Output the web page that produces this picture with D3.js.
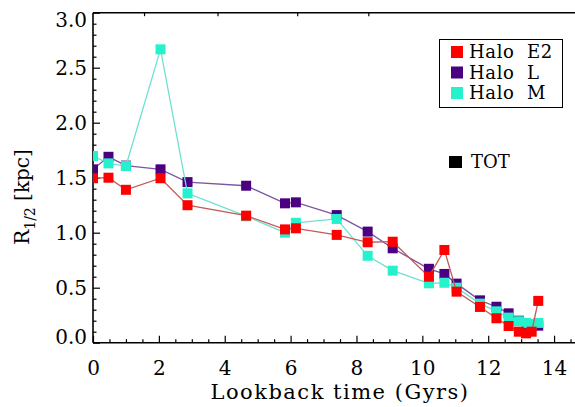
<!DOCTYPE html>
<html>
<head>
<meta charset="utf-8">
<script src="https://cdn.jsdelivr.net/npm/d3@7"></script>
<style>
  body { margin: 0; background: #fff; }
  svg { display: block; font-family: "DejaVu Serif", serif; }
</style>
</head>
<body>
<script>
// lookback time (Gyr) of each snapshot
const times = [0, 0.47, 1.0, 2.05, 2.87, 4.65, 5.83, 6.16, 7.4, 8.34, 9.1,
    10.2, 10.67, 11.04, 11.75, 12.25, 12.62, 12.93, 13.15, 13.32, 13.52];

// half-mass radius R_1/2 (kpc)
const haloE2 = [1.495, 1.50, 1.39, 1.495, 1.25, 1.155, 1.03, 1.04, 0.98, 0.913, 0.918,
    0.60, 0.843, 0.464, 0.325, 0.222, 0.152, 0.10, 0.085, 0.10, 0.38];
const haloL = [1.576, 1.69, 1.61, 1.576, 1.46, 1.427, 1.267, 1.276, 1.16, 1.01, 0.858,
    0.672, 0.625, 0.537, 0.385, 0.327, 0.267, 0.20, 0.17, 0.16, 0.155];
const haloM = [1.697, 1.63, 1.606, 2.667, 1.358, 1.15, 1.0, 1.09, 1.125, 0.79, 0.655,
    0.54, 0.545, 0.50, 0.355, 0.285, 0.228, 0.195, 0.18, 0.17, 0.18];

const xTicks = [0, 2, 4, 6, 8, 10, 12, 14];
const yTicks = [0, 0.5, 1.0, 1.5, 2.0, 2.5, 3.0];
const topTicks = [1.55, 3.78, 6.2, 8.36];

const series = [
    { name: 'Halo L', values: haloL, fill: '#4b0082', line: '#7d55a0' },
    { name: 'Halo M', values: haloM, fill: '#25f2cc', line: '#6ee0d2' },
    { name: 'Halo E2', values: haloE2, fill: '#ff0000', line: '#c45a55' }
];
const legendOrder = ['Halo E2', 'Halo L', 'Halo M'];

const width = 575, height = 407;
const svg = d3.select('body').append('svg')
    .attr('width', width)
    .attr('height', height)

const x = d3.scaleLinear().domain([0, 15]).range([93, 587]);
const y = d3.scaleLinear().domain([0, 3]).range([342.7, 12.7]);

svg.append('clipPath').attr('id', 'plot')
    .append('rect')
    .attr('x', x(0)).attr('y', y(3))
    .attr('width', x(15) - x(0)).attr('height', y(0) - y(3));

// axes
svg.append('g')
    .attr('transform', `translate(0,${y(0)})`)
    .call(d3.axisBottom(x).tickValues(xTicks).tickSize(-7).tickSizeOuter(0).tickPadding(18));
svg.append('g')
    .attr('transform', `translate(0,${y(0)})`)
    .call(d3.axisBottom(x).tickValues(d3.range(0.5, 15, 0.5).filter(d => d % 2 !== 0))
        .tickSize(-3.5).tickSizeOuter(0).tickFormat(''));

const yAxis = svg.append('g')
    .attr('transform', `translate(${x(0)},0)`)
    .call(d3.axisLeft(y).tickValues(yTicks).tickSize(-7).tickSizeOuter(0).tickPadding(6)
        .tickFormat(d3.format('.1f')));
svg.append('g')
    .attr('transform', `translate(${x(0)},0)`)
    .call(d3.axisLeft(y).tickValues(d3.range(1, 30).filter(d => d % 5 !== 0).map(d => d / 10))
        .tickSize(-3.5).tickSizeOuter(0).tickFormat(''));

svg.append('g')
    .attr('transform', `translate(0,${y(3)})`)
    .call(d3.axisTop(x).tickValues(topTicks).tickSize(-3.5).tickSizeOuter(0).tickFormat(''));

svg.selectAll('.domain').remove();
svg.selectAll('.tick line').attr('stroke', '#000').attr('stroke-width', 1.2);
svg.selectAll('.tick text')
    .attr('fill', '#000')
    .style('font-family', '"DejaVu Serif", serif')
    .style('font-size', '20px');

// nudge the end labels of the y axis inwards
yAxis.selectAll('.tick text')
    .attr('dy', d => d === 0 ? '0.02em' : d === 3 ? '0.67em' : '0.32em');

// frame
const frame = svg.append('g').attr('stroke', '#000').attr('stroke-width', 1.6);
frame.append('line').attr('x1', x(0)).attr('x2', x(15)).attr('y1', y(0)).attr('y2', y(0));
frame.append('line').attr('x1', x(0)).attr('x2', x(15)).attr('y1', y(3)).attr('y2', y(3));
frame.append('line').attr('x1', x(0)).attr('x2', x(0)).attr('y1', y(0)).attr('y2', y(3));

// data
const plot = svg.append('g').attr('clip-path', 'url(#plot)');
const line = d3.line().x((d, i) => x(times[i])).y(d => y(d));
const sq = 10;

series.forEach(s => {
    plot.append('path')
        .attr('d', line(s.values))
        .attr('fill', 'none')
        .attr('stroke', s.line)
        .attr('stroke-width', 1.3);
    plot.selectAll(null)
        .data(s.values)
        .enter()
        .append('rect')
        .attr('x', (d, i) => x(times[i]) - sq / 2)
        .attr('y', d => y(d) - sq / 2)
        .attr('width', sq)
        .attr('height', sq)
        .attr('fill', s.fill);
});

// legend
const legend = svg.append('g');
legend.append('rect')
    .attr('x', 439.5).attr('y', 39.5).attr('width', 123).attr('height', 68)
    .attr('fill', '#fff').attr('stroke', '#000').attr('stroke-width', 1);
legendOrder.forEach((name, i) => {
    const s = series.find(d => d.name === name);
    const cy = 52 + i * 20.5;
    legend.append('rect')
        .attr('x', 451).attr('y', cy - 6).attr('width', 12).attr('height', 12)
        .attr('fill', s.fill);
    legend.append('text')
        .attr('x', 469).attr('y', cy + 6)
        .attr('font-size', 18)
        .attr('letter-spacing', 0.6)
        .attr('xml:space', 'preserve')
        .style('white-space', 'pre')
        .text(name.replace(' ', '  '));
});
legend.append('rect')
    .attr('x', 449).attr('y', 156).attr('width', 13).attr('height', 12)
    .attr('fill', '#000');
legend.append('text')
    .attr('x', 471).attr('y', 168)
    .attr('font-size', 18)
    .text('TOT');

// axis titles
svg.append('text')
    .attr('x', (x(0) + x(15)) / 2)
    .attr('y', 399)
    .attr('text-anchor', 'middle')
    .attr('font-size', 21)
    .attr('letter-spacing', 1.5)
    .text('Lookback time (Gyrs)');

const yTitle = svg.append('text')
    .attr('transform', 'translate(29,197) rotate(-90)')
    .attr('text-anchor', 'middle')
    .attr('font-size', 20);
yTitle.append('tspan').text('R');
yTitle.append('tspan').attr('dy', 6).attr('font-size', 14).text('1/2');
yTitle.append('tspan').attr('dy', -6).text(' [kpc]');
</script>
</body>
</html>
